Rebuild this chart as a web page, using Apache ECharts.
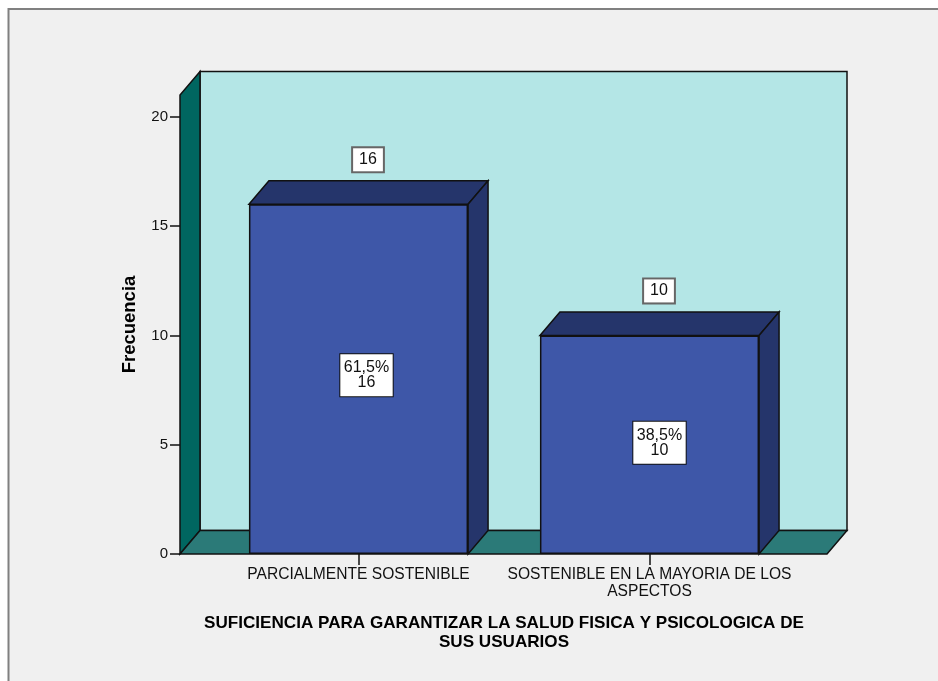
<!DOCTYPE html>
<html>
<head>
<meta charset="utf-8">
<style>html,body{margin:0;padding:0;background:#fff}#chart{width:938px;height:681px}</style>
<script src="https://cdn.jsdelivr.net/npm/echarts@6/dist/echarts.min.js"></script>
</head>
<body>
<div id="chart"></div>
<script>
// Survey frequencies by category
const categories = ['PARCIALMENTE SOSTENIBLE', 'SOSTENIBLE EN LA MAYORIA DE LOS\nASPECTOS'];
const frequencies = [16, 10];
const percentages = ['61,5%', '38,5%'];
const yTicks = [0, 5, 10, 15, 20];
const xTitle = 'SUFICIENCIA PARA GARANTIZAR LA SALUD FISICA Y PSICOLOGICA DE\nSUS USUARIOS';
const yTitle = 'Frecuencia';

// Extrusion of the pseudo-3D box and bars
const DX = 20, DY = -23.5;
const FONT = '"Liberation Sans", Arial, sans-serif';
const INK = '#111';

const chart = echarts.init(document.getElementById('chart'), null, {renderer: 'canvas'});

// Back wall, side wall and floor around the plotting area
function renderWalls(params, api) {
  const g = params.coordSys;
  const x0 = g.x - 33, x1 = g.x + g.width + 32;
  const yb = g.y + g.height, yt = g.y;
  const line = {stroke: INK, lineWidth: 1.5};
  return {type: 'group', silent: true, children: [
    {type: 'rect', shape: {x: x0 + DX, y: yt + DY, width: x1 - x0, height: g.height},
     style: {fill: '#B4E6E6', ...line}},
    {type: 'polygon', shape: {points: [[x0, yb], [x0 + DX, yb + DY], [x0 + DX, yt + DY], [x0, yt]]},
     style: {fill: '#006660', ...line}},
    {type: 'polygon', shape: {points: [[x0, yb], [x1, yb], [x1 + DX, yb + DY], [x0 + DX, yb + DY]]},
     style: {fill: '#2B7A78', ...line}}
  ]};
}

// Top and side faces of each bar plus the frequency tag above it
function renderDepth(params, api) {
  const i = api.value(0), v = api.value(1);
  const half = api.size([1, 0])[0] * 0.3765;
  const top = api.coord([i, v]), base = api.coord([i, 0]);
  const l = top[0] - half, r = top[0] + half;
  const line = {stroke: INK, lineWidth: 1.5};
  return {type: 'group', children: [
    {type: 'polygon', shape: {points: [[l, top[1]], [r, top[1]], [r + DX, top[1] + DY], [l + DX, top[1] + DY]]},
     style: {fill: '#25356B', ...line}},
    {type: 'polygon', shape: {points: [[r, top[1]], [r + DX, top[1] + DY], [r + DX, base[1] + DY], [r, base[1]]]},
     style: {fill: '#25356B', ...line}},
    {type: 'text', x: top[0] + DX / 2 - 0.5, y: top[1] + DY - 21,
     style: {text: String(v), font: '16px ' + FONT, fill: INK, align: 'center', verticalAlign: 'middle',
             backgroundColor: '#fff', borderColor: '#666', borderWidth: 2, padding: [4, 6, 3, 6]}}
  ]};
}

chart.setOption({
  animation: false,
  graphic: [{type: 'rect', z: -10, silent: true,
    shape: {x: 8.5, y: 9, width: 940, height: 680},
    style: {fill: '#F0F0F0', stroke: '#808080', lineWidth: 2}}],
  grid: {left: 213, width: 582, top: 95, height: 459, containLabel: false},
  xAxis: {
    type: 'category', data: categories,
    axisLine: {show: false},
    axisTick: {show: true, alignWithLabel: true, length: 11, lineStyle: {color: INK, width: 1.5}},
    axisLabel: {color: INK, fontSize: 15.6, fontFamily: FONT, lineHeight: 17, margin: 12.5, interval: 0},
    name: xTitle, nameLocation: 'middle', nameGap: 60,
    nameTextStyle: {color: '#000', fontSize: 17.1, fontWeight: 'bold', fontFamily: FONT, lineHeight: 19}
  },
  yAxis: {
    type: 'value', min: 0, max: 21, interval: 5, offset: 33,
    splitLine: {show: false}, axisLine: {show: false},
    axisTick: {show: true, length: 10, customValues: yTicks, lineStyle: {color: INK, width: 1.5}},
    axisLabel: {color: INK, fontSize: 15, fontFamily: FONT, margin: 12, customValues: yTicks},
    name: yTitle, nameLocation: 'middle', nameGap: 41, nameRotate: 90,
    nameTextStyle: {color: '#000', fontSize: 18.5, fontWeight: 'bold', fontFamily: FONT}
  },
  series: [
    {type: 'custom', z: 1, clip: false, silent: true, renderItem: renderWalls, data: [[0, 0]]},
    {type: 'custom', z: 2, clip: false, silent: true, renderItem: renderDepth,
     encode: {x: 0, y: 1},
     data: frequencies.map((v, i) => [i, v])},
    {type: 'bar', z: 3, barWidth: '75.3%', silent: true,
     itemStyle: {color: '#3E57A8', borderColor: INK, borderWidth: 1.5},
     data: frequencies.map((v, i) => ({
       value: v,
       label: {offset: [i === 0 ? 8 : 10, i === 0 ? -4 : -2]}
     })),
     label: {
       show: true, position: 'inside',
       formatter: p => percentages[p.dataIndex] + '\n' + p.value,
       color: INK, fontSize: 16, fontFamily: FONT, lineHeight: 15, align: 'center',
       backgroundColor: '#fff', borderColor: INK, borderWidth: 1, padding: [6, 3.5, 6, 3.5]
     }}
  ]
});
</script>
</body>
</html>
